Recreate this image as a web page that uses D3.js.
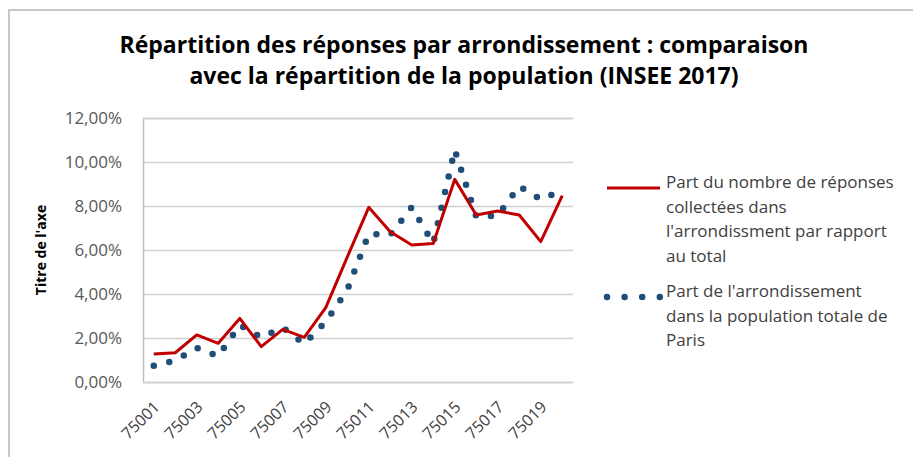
<!DOCTYPE html>
<html>
<head>
<meta charset="utf-8">
<script src="https://cdn.jsdelivr.net/npm/d3@7"></script>
<style>
  body { margin: 0; background: #fff; }
  svg text { font-family: "Open Sans", Lato, sans-serif; }
</style>
</head>
<body>
<script>
var categories = ["75001", "75002", "75003", "75004", "75005", "75006", "75007", "75008", "75009", "75010",
                  "75011", "75012", "75013", "75014", "75015", "75016", "75017", "75018", "75019", "75020"];

// part du nombre de réponses (%)
var reponses = [1.27, 1.33, 2.14, 1.76, 2.89, 1.61, 2.39, 2.03, 3.38, 5.68,
                7.94, 6.83, 6.23, 6.30, 9.21, 7.59, 7.77, 7.59, 6.38, 8.47];

// part de l'arrondissement dans la population (%)
var population = [0.74, 0.98, 1.55, 1.17, 2.59, 2.03, 2.47, 1.74, 2.74, 4.18,
                  6.73, 6.68, 7.95, 6.30, 10.55, 7.52, 7.56, 8.90, 8.30, 8.70];

var yTicks = [0, 2, 4, 6, 8, 10, 12];

var titleLines = ["Répartition des réponses par arrondissement : comparaison",
                  "avec la répartition de la population (INSEE 2017)"];
var legendRed = ["Part du nombre de réponses", "collectées dans", "l'arrondissment par rapport", "au total"];
var legendBlue = ["Part de l'arrondissement", "dans la population totale de", "Paris"];

var width = 913, height = 457;
var red = "#c00000", blue = "#1f4e79";

var svg = d3.select("body").append("svg")
    .attr("width", width)
    .attr("height", height);

// outer frame
svg.append("rect")
    .attr("x", 9).attr("y", 10)
    .attr("width", 940).attr("height", 480)
    .attr("fill", "none")
    .attr("stroke", "#c8c8c8")
    .attr("stroke-width", 2);

var x = d3.scaleBand().domain(categories).range([143, 573]);
var y = d3.scaleLinear().domain([0, 12]).range([382, 118]);
var cx = function(d, i) { return x(categories[i]) + x.bandwidth() / 2; };

// title
svg.append("text")
    .attr("x", 464).attr("y", 53)
    .attr("text-anchor", "middle")
    .style("font-size", "23px")
    .style("font-weight", "bold")
    .attr("fill", "#000")
    .selectAll("tspan")
    .data(titleLines)
    .enter().append("tspan")
    .attr("x", 464)
    .attr("dy", function(d, i) { return i ? 31 : 0; })
    .text(function(d) { return d; });

// y axis with gridlines
var yAxis = svg.append("g")
    .attr("transform", "translate(143,0)")
    .call(d3.axisLeft(y)
      .tickValues(yTicks)
      .tickSize(-430)
      .tickPadding(21)
      .tickFormat(function(d) { return d.toFixed(2).replace(".", ",") + "%"; }));
yAxis.select(".domain").attr("stroke", "#bfbfbf").attr("stroke-width", 1.5);
yAxis.selectAll(".tick line").attr("stroke", "#d0d0d0").attr("stroke-width", 1.5);
yAxis.selectAll(".tick text")
    .attr("fill", "#595959")
    .style("font-size", "17px");

// x axis
var xAxis = svg.append("g")
    .attr("transform", "translate(0,382)")
    .call(d3.axisBottom(x)
      .tickValues(categories.filter(function(d, i) { return i % 2 === 0; }))
      .tickSize(0));
xAxis.select(".domain").remove();
xAxis.selectAll(".tick text")
    .attr("x", 0).attr("y", 0)
    .attr("dy", "0.35em")
    .attr("transform", "translate(3,22) rotate(-45)")
    .style("text-anchor", "end")
    .style("font-size", "16px")
    .attr("fill", "#404040");

var line = d3.line()
    .x(cx)
    .y(function(d) { return y(d); });

svg.append("path")
    .datum(population)
    .attr("d", line)
    .attr("fill", "none")
    .attr("stroke", blue)
    .attr("stroke-width", 6.5)
    .attr("stroke-linecap", "round")
    .attr("stroke-dasharray", "0 16");

svg.append("path")
    .datum(reponses)
    .attr("d", line)
    .attr("fill", "none")
    .attr("stroke", red)
    .attr("stroke-width", 3)
    .attr("stroke-linejoin", "round");

// y axis title
svg.append("text")
    .attr("transform", "translate(46,250) rotate(-90)")
    .attr("text-anchor", "middle")
    .style("font-size", "14px")
    .style("font-weight", "bold")
    .text("Titre de l'axe");

// legend
var legend = svg.append("g");
legend.append("line")
    .attr("x1", 607).attr("x2", 660)
    .attr("y1", 188).attr("y2", 188)
    .attr("stroke", red).attr("stroke-width", 3);
legend.append("line")
    .attr("x1", 607).attr("x2", 660)
    .attr("y1", 297).attr("y2", 297)
    .attr("stroke", blue).attr("stroke-width", 6.5)
    .attr("stroke-linecap", "round")
    .attr("stroke-dasharray", "0 17.6");

function legendText(lines, y0) {
  legend.append("text")
      .attr("x", 666).attr("y", y0)
      .attr("dy", "0.35em")
      .style("font-size", "17px")
      .attr("fill", "#404040")
      .selectAll("tspan")
      .data(lines)
      .enter().append("tspan")
      .attr("x", 666)
      .attr("dy", function(d, i) { return i ? 24.5 : 0; })
      .text(function(d) { return d; });
}
legendText(legendRed, 188);
legendText(legendBlue, 297);
</script>
</body>
</html>
